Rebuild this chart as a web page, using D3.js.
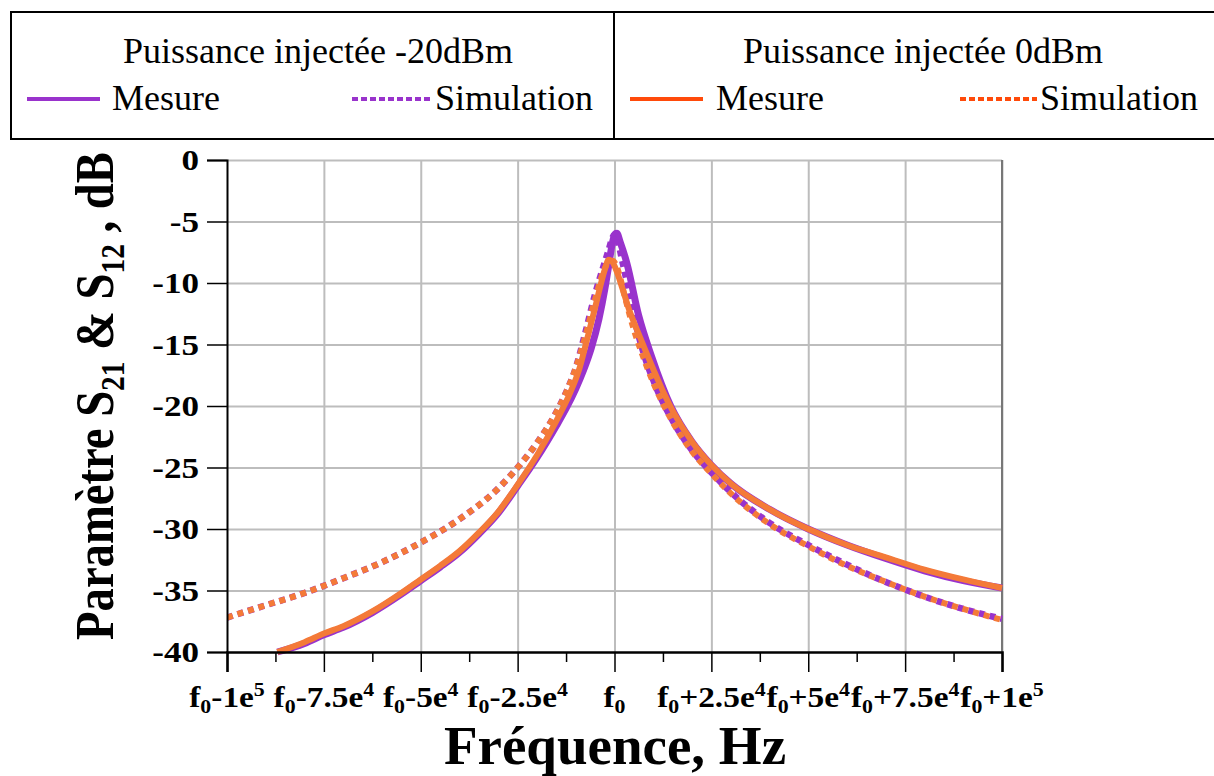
<!DOCTYPE html>
<html><head><meta charset="utf-8">
<script src="https://cdn.jsdelivr.net/npm/d3@7"></script>
<style>
body{margin:0;background:#fff}
svg{display:block}
text{font-family:"Liberation Serif","Times New Roman",serif;fill:#000}
</style></head>
<body><svg id="chart" width="1214" height="776"></svg>
<script>
// ---------- data (frequency offset from f0 in Hz, S-parameter in dB) ----------
const simM20 = [[-100000,-37.2],[-90000,-36.2],[-80000,-35.2],[-70000,-34.0],[-60000,-32.7],[-50000,-31.1],[-40000,-29.2],[-30000,-26.7],[-25000,-25.0],[-20000,-23.0],[-15000,-20.5],[-12500,-18.9],[-10000,-16.9],[-7500,-14.0],[-5000,-10.9],[-3000,-8.8],[-1500,-7.3],[-500,-6.3],[200,-6.0],[1000,-6.8],[2000,-8.2],[3500,-10.4],[5000,-12.7],[7500,-15.7],[10000,-17.9],[15000,-21.2],[20000,-23.6],[25000,-25.4],[30000,-27.0],[40000,-29.5],[50000,-31.3],[60000,-32.9],[70000,-34.3],[80000,-35.5],[90000,-36.5],[100000,-37.3]];
const simZero = [[-100000,-37.2],[-90000,-36.2],[-80000,-35.2],[-70000,-34.0],[-60000,-32.7],[-50000,-31.1],[-40000,-29.2],[-30000,-26.7],[-25000,-25.0],[-20000,-23.0],[-15000,-20.5],[-12500,-18.9],[-10000,-16.9],[-7500,-14.3],[-5000,-11.3],[-3000,-9.2],[-1500,-8.3],[-500,-8.2],[500,-8.6],[1500,-9.6],[2500,-10.9],[5000,-13.8],[7500,-16.1],[10000,-18.1],[15000,-21.3],[20000,-23.7],[25000,-25.5],[30000,-27.1],[40000,-29.6],[50000,-31.4],[60000,-33.0],[70000,-34.3],[80000,-35.5],[90000,-36.5],[100000,-37.4]];
const mesM20 = [[-87000,-40.0],[-80000,-39.3],[-75000,-38.6],[-70000,-38.0],[-62500,-36.8],[-55000,-35.3],[-50000,-34.2],[-45000,-33.1],[-40000,-31.9],[-35000,-30.4],[-30000,-28.7],[-25000,-26.5],[-20000,-24.2],[-15000,-21.6],[-12500,-20.2],[-10000,-18.6],[-8000,-17.1],[-6000,-15.3],[-4000,-12.9],[-2500,-10.5],[-1500,-8.6],[-700,-7.0],[0,-6.1],[600,-5.95],[1500,-6.7],[3200,-8.4],[6200,-12.6],[9600,-16.0],[14500,-20.0],[20000,-22.9],[25000,-24.8],[30000,-26.3],[40000,-28.4],[50000,-30.0],[60000,-31.3],[70000,-32.4],[80000,-33.4],[90000,-34.2],[100000,-34.8]];
const mesZero = [[-87000,-40.0],[-80000,-39.2],[-75000,-38.5],[-70000,-37.9],[-62500,-36.7],[-55000,-35.2],[-50000,-34.1],[-45000,-33.0],[-40000,-31.8],[-35000,-30.3],[-30000,-28.6],[-25000,-26.4],[-20000,-24.0],[-15000,-21.2],[-11400,-18.9],[-9000,-16.9],[-7100,-14.6],[-5000,-12.0],[-3700,-10.3],[-2500,-8.9],[-1500,-8.1],[-500,-8.3],[500,-9.0],[1900,-10.3],[3800,-12.2],[5800,-13.8],[8000,-15.5],[10000,-17.0],[12500,-18.8],[15200,-20.5],[20000,-22.9],[25000,-24.8],[30000,-26.3],[40000,-28.4],[50000,-30.0],[60000,-31.3],[70000,-32.3],[80000,-33.3],[90000,-34.1],[100000,-34.8]];

const xTickValues = [-100000,-75000,-50000,-25000,0,25000,50000,75000,100000];
const xMinorValues = [-87500,-62500,-37500,-12500,12500,37500,62500,87500];
const xTickMantissa = ["-1","-7.5","-5","-2.5","","+2.5","+5","+7.5","+1"];
const xTickExponent = ["5","4","4","4","","4","4","4","5"];
const yTickValues = [0,-5,-10,-15,-20,-25,-30,-35,-40];
const yTickLabels = ["0","-5","-10","-15","-20","-25","-30","-35","-40"];
const legendGroups = ["Puissance injectée -20dBm","Puissance injectée 0dBm"];
const legendItems = ["Mesure","Simulation"];

// ---------- setup ----------
const svg = d3.select("#chart");
const L=227,R=1002,T=160,B=652;
const x = d3.scaleLinear().domain([-100000,100000]).range([L,R]);
const y = d3.scaleLinear().domain([-40,0]).range([B,T]);
const PURPLE="#9933CC", ORANGE="#F47A38", LEG_ORANGE="#FF4A0A";

// grid
const gx = svg.append("g").attr("transform",`translate(0,${B})`)
  .call(d3.axisBottom(x).tickValues(xTickValues.slice(1)).tickSize(-(B-T)).tickFormat(""));
gx.select(".domain").remove();
gx.selectAll("line").attr("stroke","#BDBDBD").attr("stroke-width",2);
const gy = svg.append("g").attr("transform",`translate(${L},0)`)
  .call(d3.axisLeft(y).tickValues(yTickValues.slice(0,-1)).tickSize(-(R-L)).tickFormat(""));
gy.select(".domain").remove();
gy.selectAll("line").attr("stroke","#BDBDBD").attr("stroke-width",2);
svg.append("line").attr("x1",R).attr("x2",R).attr("y1",T).attr("y2",B).attr("stroke","#777").attr("stroke-width",2);

// curves
svg.append("defs").append("clipPath").attr("id","clip").append("rect")
  .attr("x",L).attr("y",T-30).attr("width",R-L+4).attr("height",B-T+34);
const line = d3.line().x(d=>x(d[0])).y(d=>y(d[1])).curve(d3.curveMonotoneX);
const plot = svg.append("g").attr("clip-path","url(#clip)");
plot.append("path").datum(mesM20).attr("d",line).attr("fill","none").attr("stroke",PURPLE).attr("stroke-width",7).attr("stroke-linejoin","round");
plot.append("path").datum(simM20).attr("d",line).attr("fill","none").attr("stroke",PURPLE).attr("stroke-width",6.5).attr("stroke-dasharray","6,5");
plot.append("path").datum(mesZero).attr("d",line).attr("fill","none").attr("stroke",ORANGE).attr("stroke-width",6).attr("stroke-linejoin","round");
plot.append("path").datum(simZero).attr("d",line).attr("fill","none").attr("stroke",ORANGE).attr("stroke-width",6).attr("stroke-dasharray","6,5");

// axes
const ax = svg.append("g").attr("transform",`translate(0,${B})`)
  .call(d3.axisBottom(x).tickValues(xTickValues).tickSize(20).tickFormat(""));
ax.selectAll("line").attr("stroke","#000").attr("stroke-width",1.5);
ax.select(".domain").attr("stroke","#000").attr("stroke-width",2.5);
const axm = svg.append("g").attr("transform",`translate(0,${B})`)
  .call(d3.axisBottom(x).tickValues(xMinorValues).tickSize(10).tickFormat(""));
axm.select(".domain").remove();
axm.selectAll("line").attr("stroke","#000").attr("stroke-width",1.5);
const ay = svg.append("g").attr("transform",`translate(${L},0)`)
  .call(d3.axisLeft(y).tickValues(yTickValues).tickSize(20).tickFormat(""));
ay.selectAll("line").attr("stroke","#000").attr("stroke-width",1.5);
ay.select(".domain").attr("stroke","#000").attr("stroke-width",2);

// tick labels
xTickValues.forEach((v,i)=>{
  const g = svg.append("g").attr("transform",`translate(${x(v)},707) scale(1.15,1)`);
  const t = g.append("text").attr("text-anchor","middle").attr("font-weight","bold").attr("font-size",29);
  t.append("tspan").text("f");
  t.append("tspan").attr("font-size",19).attr("dy",6).text("0");
  if (xTickMantissa[i]) {
    t.append("tspan").attr("font-size",29).attr("dy",-6).text(xTickMantissa[i]+"e");
    t.append("tspan").attr("font-size",19).attr("dy",-11).text(xTickExponent[i]);
  }
});
yTickValues.forEach((v,i)=>{
  svg.append("g").attr("transform",`translate(199,${y(v)+10}) scale(1.17,1)`)
    .append("text").attr("text-anchor","end").attr("font-weight","bold").attr("font-size",30).text(yTickLabels[i]);
});

// axis titles
svg.append("text").attr("x",615).attr("y",764).attr("text-anchor","middle")
  .attr("font-weight","bold").attr("font-size",55).text("Fréquence, Hz");
const yt = svg.append("g");
const ytt = yt.append("text").attr("text-anchor","middle").attr("font-weight","bold").attr("font-size",54);
ytt.append("tspan").text("Paramètre S");
ytt.append("tspan").attr("font-size",34).attr("dy",11).text("21");
ytt.append("tspan").attr("dy",-11).text(" & S");
ytt.append("tspan").attr("font-size",34).attr("dy",11).text("12");
ytt.append("tspan").attr("dy",-11).text(" , dB");
const w = ytt.node().getBBox().width;
yt.attr("transform",`translate(113,396) rotate(-90) scale(${488/w},1)`);

// legend
svg.append("rect").attr("x",11).attr("y",12).attr("width",1212).attr("height",127)
  .attr("fill","none").attr("stroke","#000").attr("stroke-width",2);
svg.append("line").attr("x1",614).attr("x2",614).attr("y1",12).attr("y2",139).attr("stroke","#000").attr("stroke-width",2);
const legCfg = [
  {cx:318, color:PURPLE, l1:[27,100], t1:112, l2:[352,430], t2:435},
  {cx:923, color:LEG_ORANGE, l1:[630,703], t1:716, l2:[960,1037], t2:1040}
];
legCfg.forEach((c,i)=>{
  svg.append("text").attr("x",c.cx).attr("y",63).attr("text-anchor","middle").attr("font-size",36).text(legendGroups[i]);
  svg.append("line").attr("x1",c.l1[0]).attr("x2",c.l1[1]).attr("y1",99).attr("y2",99).attr("stroke",c.color).attr("stroke-width",4);
  svg.append("text").attr("x",c.t1).attr("y",110).attr("font-size",36).text(legendItems[0]);
  svg.append("line").attr("x1",c.l2[0]).attr("x2",c.l2[1]).attr("y1",99).attr("y2",99).attr("stroke",c.color).attr("stroke-width",4).attr("stroke-dasharray","6,3");
  svg.append("text").attr("x",c.t2).attr("y",110).attr("font-size",36).text(legendItems[1]);
});
</script></body></html>
